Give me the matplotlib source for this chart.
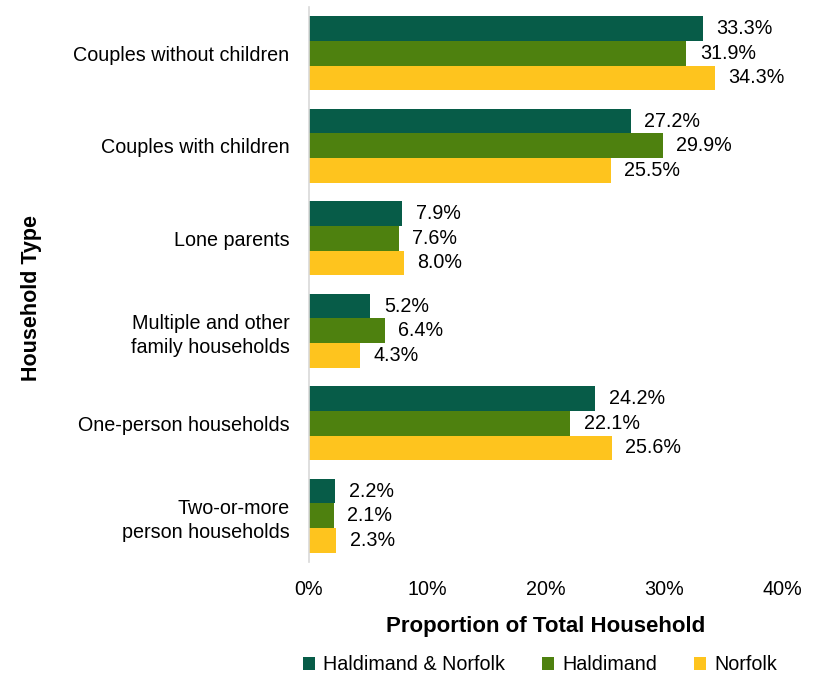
import matplotlib
matplotlib.use("Agg")
import matplotlib.pyplot as plt
import numpy as np

plt.rcParams['font.family'] = ['Liberation Sans', 'DejaVu Sans']

categories = ["Couples without children", "Couples with children", "Lone parents",
              "Multiple and other\nfamily households", "One-person households",
              "Two-or-more\nperson households"]
series_names = ["Haldimand & Norfolk", "Haldimand", "Norfolk"]
hn = [33.3, 27.2, 7.9, 5.2, 24.2, 2.2]
hald = [31.9, 29.9, 7.6, 6.4, 22.1, 2.1]
norf = [34.3, 25.5, 8.0, 4.3, 25.6, 2.3]
xticks = [0, 10, 20, 30, 40]
colors = ["#075C48", "#4E810F", "#FEC41E"]

FS = 14.2

fig = plt.figure(figsize=(8.14, 6.76), dpi=100)
ax = fig.add_axes([309/814, 1 - 562/676, (782-309)/814, (562-7)/676])

y = np.arange(len(categories))
h = 0.265
for i, (vals, c, name) in enumerate(zip([hn, hald, norf], colors, series_names)):
    pos = y + (i - 1) * h
    ax.barh(pos, vals, height=h, color=c, label=name)
    for p, v in zip(pos, vals):
        ax.text(v + 1.15, p, f"{v:.1f}%", va='center', ha='left', fontsize=FS)

ax.set_ylim(len(categories) - 0.5, -0.5)
ax.set_xlim(0, 40)
ax.set_yticks(y)
ax.set_yticklabels(categories, fontsize=FS, linespacing=1.36)
ax.set_xticks(xticks)
ax.set_xticklabels([f"{t}%" for t in xticks], fontsize=FS)
ax.tick_params(length=0, pad=14, axis='y')
ax.tick_params(length=0, pad=13, axis='x')
for s in ['top', 'right', 'bottom']:
    ax.spines[s].set_visible(False)
ax.spines['left'].set_color('#D9D9D9')
ax.spines['left'].set_linewidth(1.2)

ax.set_xlabel("Proportion of Total Household", fontsize=16, fontweight='bold', labelpad=12)
fig.text(32/814, 1 - 298/676, "Household Type", rotation=90, fontsize=15.5,
         fontweight='bold', ha='center', va='center')

leg = fig.legend(loc='center', bbox_to_anchor=(540/814, 1 - 665/676), ncol=3,
                 frameon=False, fontsize=FS, handlelength=0.6, handleheight=0.6,
                 handletextpad=0.4, columnspacing=1.9)

fig.savefig("out.png", dpi=100)
